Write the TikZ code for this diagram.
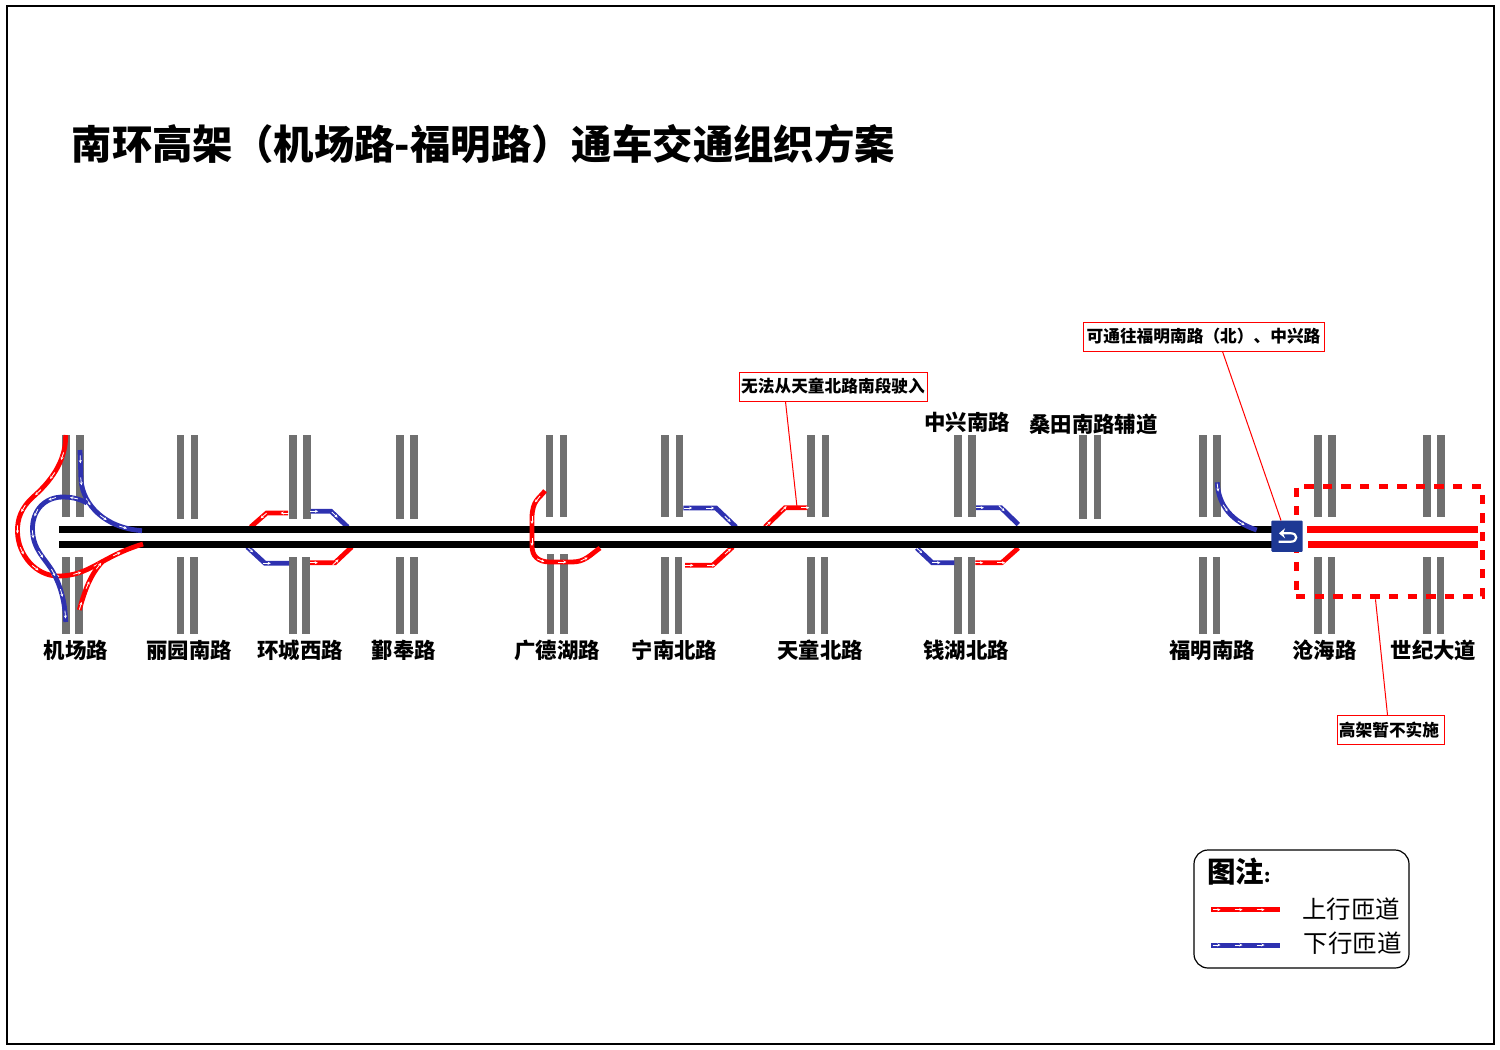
\documentclass[tikz,border=0pt]{standalone}
\usepackage{fontspec}
\setmainfont{Noto Sans CJK SC}
\usetikzlibrary{arrows.meta,decorations.markings}
\definecolor{rampred}{RGB}{255,0,0}
\definecolor{rampblue}{RGB}{46,49,176}
\definecolor{roadgray}{RGB}{112,112,112}
\definecolor{signblue}{RGB}{29,56,148}
\tikzset{
	roadbar/.style={shape=rectangle,fill=roadgray,inner sep=0pt,minimum width=7.6pt},
	roadup/.style={roadbar,minimum height=82pt},
	roadlow/.style={roadbar,minimum height=77pt},
	mainroad/.style={shape=rectangle,fill=black,inner sep=0pt,minimum width=1213pt,minimum height=7.6pt},
	closedroad/.style={shape=rectangle,fill=rampred,inner sep=0pt,minimum width=171pt,minimum height=7.6pt},
	ramp/.style={line width=4.8pt,postaction={decorate},decoration={markings,
		mark=between positions 0.08 and 0.97 step 22pt with {\draw[white,line width=.8pt,-{Stealth[length=3.2pt,width=3pt]}] (-4pt,0) -- (4pt,0);}}},
	rampup/.style={ramp,draw=rampred},
	rampdown/.style={ramp,draw=rampblue},
	roadname/.style={font=\fontsize{21.4}{24}\selectfont\bfseries,inner sep=0pt},
	note/.style={shape=rectangle,draw=rampred,fill=white,line width=1pt,inner sep=0pt,minimum height=29pt,font=\fontsize{16.7}{20}\selectfont\bfseries},
	leader/.style={draw=rampred,line width=1pt},
}
\begin{document}
\begin{tikzpicture}[x=1pt,y=-1pt]
	\useasboundingbox (0,0) rectangle (1500,1050);
	\node[shape=rectangle,draw=black,line width=2pt,inner sep=0pt,minimum width=1487pt,minimum height=1038pt] (frame) at (750.5,525) {};
	\node[inner sep=0pt,anchor=west,font=\fontsize{40.4}{46}\selectfont\bfseries] (title) at (71.5,144) {南环高架（机场路-福明路）通车交通组织方案};

	\node[roadup] (Aa) at (65.7,476) {};
	\node[roadup] (Ab) at (79.7,476) {};
	\node[roadlow] (Ac) at (65.7,595.5) {};
	\node[roadlow] (Ad) at (79.2,595.5) {};
	\node[roadup,minimum height=84pt] (Ba) at (180.4,477) {};
	\node[roadup,minimum height=84pt] (Bb) at (194.4,477) {};
	\node[roadlow] (Bc) at (180.4,595.5) {};
	\node[roadlow] (Bd) at (193.8,595.5) {};
	\node[roadup,minimum height=84pt] (Ca) at (292.7,477) {};
	\node[roadup,minimum height=84pt] (Cb) at (306.8,477) {};
	\node[roadlow] (Cc) at (292.7,595.5) {};
	\node[roadlow] (Cd) at (306,595.5) {};
	\node[roadup,minimum height=84pt] (Da) at (400,477) {};
	\node[roadup,minimum height=84pt] (Db) at (414,477) {};
	\node[roadlow] (Dc) at (400,595.5) {};
	\node[roadlow] (Dd) at (414,595.5) {};
	\node[roadup] (Ea) at (549.3,476) {};
	\node[roadup] (Eb) at (563.3,476) {};
	\node[roadlow,minimum height=80pt] (Ec) at (550.5,594) {};
	\node[roadlow,minimum height=80pt] (Ed) at (563.9,594) {};
	\node[roadup] (Fa) at (665.2,476) {};
	\node[roadup] (Fb) at (679.5,476) {};
	\node[roadlow] (Fc) at (665.2,595.5) {};
	\node[roadlow] (Fd) at (678.5,595.5) {};
	\node[roadup] (Ga) at (811.2,476) {};
	\node[roadup] (Gb) at (825.3,476) {};
	\node[roadlow] (Gc) at (811.2,595.5) {};
	\node[roadlow] (Gd) at (824.5,595.5) {};
	\node[roadup] (Ha) at (958.2,476) {};
	\node[roadup] (Hb) at (972.2,476) {};
	\node[roadlow] (Hc) at (958.2,595.5) {};
	\node[roadlow] (Hd) at (971.5,595.5) {};
	\node[roadup,minimum height=84pt] (Ia) at (1083.2,477) {};
	\node[roadup,minimum height=84pt] (Ib) at (1097.5,477) {};
	\node[roadup] (Ja) at (1203,476) {};
	\node[roadup] (Jb) at (1217.2,476) {};
	\node[roadlow] (Jc) at (1203,595.5) {};
	\node[roadlow] (Jd) at (1216.5,595.5) {};
	\node[roadup] (Ka) at (1318.2,476) {};
	\node[roadup] (Kb) at (1332.2,476) {};
	\node[roadlow] (Kc) at (1318.2,595.5) {};
	\node[roadlow] (Kd) at (1331.5,595.5) {};
	\node[roadup] (La) at (1427,476) {};
	\node[roadup] (Lb) at (1441.2,476) {};
	\node[roadlow] (Lc) at (1427,595.5) {};
	\node[roadlow] (Ld) at (1440.5,595.5) {};

	\draw [rampup] (288,513) -- (266.7,513) -- (250.7,527);
	\draw [rampdown] (310.7,511.3) -- (331,511.3) -- (347.7,527);
	\draw [rampdown] (247.3,547) -- (265,563.3) -- (289,563.3);
	\draw [rampup] (310,562.7) -- (335,562.7) -- (351.7,547);
	\draw [rampdown] (683.3,508) -- (716,508) -- (736,527);
	\draw [rampup] (685,565.3) -- (712.7,565.3) -- (732.7,547);
	\draw [rampup] (765,527) -- (785,507.7) -- (807.3,507.7);
	\draw [rampdown] (976,507.7) -- (1001,507.7) -- (1018.3,524.5);
	\draw [rampdown] (916.7,548) -- (932.3,562.7) -- (954.3,562.7);
	\draw [rampup] (975.3,562.7) -- (1001.7,562.7) -- (1018.3,548);

	\node[mainroad] (mainup) at (665.5,529.5) {};
	\node[mainroad] (mainlow) at (665.5,544.5) {};

	\draw [rampup] (65.7,435) .. controls (66,462) and (50,482) .. (33,497) .. controls (22,507) and (17,518) .. (17.5,532) .. controls (18,555) and (36,576) .. (58,576) .. controls (90,576) and (100,557) .. (143,544);
	\draw [rampup] (79.3,610) .. controls (85,590) and (90,575) .. (103,561);
	\draw [rampdown] (80,450) -- (81,480) .. controls (83,505) and (105,528) .. (142,530.7);
	\draw [rampdown] (87,503) .. controls (78,498) and (70,497) .. (63,497) .. controls (45,497) and (32,510) .. (32.5,530) .. controls (33,550) and (45,558) .. (53,572) .. controls (60,585) and (65,600) .. (65.7,622);
	\draw [rampup] (545,490.7) .. controls (540,498) and (532,500) .. (532,518) -- (532,546) .. controls (532,556) and (538,562) .. (550,562) -- (572,562) .. controls (585,562) and (590,555) .. (600,548);
	\draw [rampdown] (1217.3,482.3) .. controls (1218,505) and (1232,522) .. (1256.7,530);

	\node[closedroad] (closedup) at (1392.2,529.5) {};
	\node[closedroad,minimum width=170pt] (closedlow) at (1392.7,544.5) {};
	\node[shape=rectangle,draw=rampred,line width=5pt,dash pattern=on 9.3pt off 9.3pt,inner sep=0pt,minimum width=186pt,minimum height=110.5pt] (closedzone) at (1389,541.7) {};
	\node[shape=rectangle,fill=signblue,rounded corners=1pt,inner sep=0pt,minimum size=31.3pt] (uturn) at (1287,536.2) {};
	\draw [white,line width=2.2pt,-{Stealth[length=6pt,width=10pt]}] (1278.5,541.7) -- (1291,541.7) .. controls (1298,541.7) and (1298,533.3) .. (1291,533.3) -- (1279,533.3);

	\node[roadname] (airport) at (76,650) {机场路};
	\node[roadname] (liyuan) at (189,650) {丽园南路};
	\node[roadname] (huancheng) at (300,650) {环城西路};
	\node[roadname] (yinfeng) at (404,650) {鄞奉路};
	\node[roadname] (guangde) at (557,650) {广德湖路};
	\node[roadname] (ningnan) at (674.5,650) {宁南北路};
	\node[roadname] (tiantong) at (820,650) {天童北路};
	\node[roadname] (qianhu) at (966,650) {钱湖北路};
	\node[roadname] (fuming) at (1212,650) {福明南路};
	\node[roadname] (canghai) at (1324.5,650) {沧海路};
	\node[roadname] (shiji) at (1433.5,650) {世纪大道};
	\node[roadname] (zhongxing) at (967,422) {中兴南路};
	\node[roadname] (sangtian) at (1093.5,424) {桑田南路辅道};

	\node[note,minimum width=188pt] (tiantongnote) at (833,386.5) {无法从天童北路南段驶入};
	\node[note,minimum width=241pt] (fumingnote) at (1203.5,336.5) {可通往福明南路（北）、中兴路};
	\node[note,minimum width=107pt] (closednote) at (1390.5,730) {\hspace*{-3pt}高架暂不实施};
	\coordinate (tiantongtip) at (797,507);
	\coordinate (uturntip) at (1281,520.5);
	\path [leader] ([xshift=47pt]tiantongnote.south west) edge (tiantongtip);
	\path [leader] ([xshift=140pt]fumingnote.south west) edge (uturntip);
	\path [leader] ([xshift=82pt]closedzone.south west) edge ([xshift=51pt]closednote.north west);

	\node[shape=rectangle,draw=black,line width=1.2pt,rounded corners=14pt,inner sep=0pt,minimum width=215pt,minimum height=118pt] (legend) at (1301.5,909) {};
	\node[inner sep=0pt,anchor=west,font=\fontsize{28.5}{32}\selectfont\bfseries] (legendtitle) at (1207,872) {图注{\fontsize{18}{20}\selectfont :}};
	\coordinate (upstart) at (1211,909.7);
	\coordinate (upend) at (1280,909.7);
	\coordinate (downstart) at (1211,945);
	\coordinate (downend) at (1280,945);
	\draw [rampup,line width=5pt] (upstart) -- (upend);
	\draw [rampdown,line width=5pt] (downstart) -- (downend);
	\node[inner sep=0pt,font=\fontsize{24.5}{28}\selectfont] (uplabel) at (1351,909) {上行匝道};
	\node[inner sep=0pt,font=\fontsize{24.5}{28}\selectfont] (downlabel) at (1352.5,943) {下行匝道};
\end{tikzpicture}
\end{document}
